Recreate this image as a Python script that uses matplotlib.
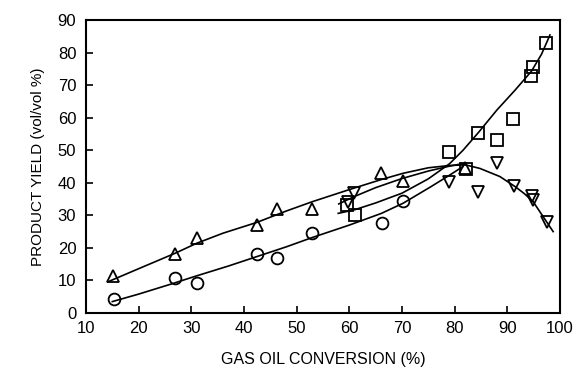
import numpy as np
import matplotlib
matplotlib.use("Agg")
import matplotlib.pyplot as plt

plt.rcParams['font.family'] = ['Liberation Sans', 'DejaVu Sans']

# measured points
tri_x = [15.2, 26.9, 31.0, 42.4, 46.2, 53.0, 66.1, 70.2, 81.9]
tri_y = [11.4, 18.0, 22.9, 26.9, 31.8, 31.9, 42.9, 40.5, 44.6]

circ_x = [15.4, 26.9, 31.0, 42.4, 46.2, 53.0, 66.3, 70.2]
circ_y = [4.3, 10.6, 9.3, 18.0, 17.0, 24.5, 27.5, 34.5]

sq_x = [59.6, 61.0, 78.9, 82.1, 84.5, 88.1, 91.1, 94.5, 94.8, 97.3]
sq_y = [33.2, 30.1, 49.3, 44.2, 55.2, 53.1, 59.6, 72.8, 75.5, 82.8]

inv_x = [59.8, 60.8, 79.0, 84.5, 88.1, 91.3, 94.6, 94.9, 97.6]
inv_y = [34.0, 36.9, 40.3, 37.3, 46.2, 39.0, 36.0, 34.7, 28.0]

# fitted curves
tri_cx = [14.2, 20, 27, 31, 36, 42.4, 48, 53, 60, 66.1, 70.2, 75, 79, 82]
tri_cy = [9.6, 13.6, 18.4, 21.4, 24.5, 27.8, 31.3, 34.2, 37.9, 41.0, 42.9, 44.6, 45.3, 45.5]

circ_cx = [15, 20, 26, 31, 37, 42.4, 48, 53, 60, 66.1, 70.2, 75.3, 79, 81.6]
circ_cy = [3.5, 5.8, 8.8, 11.4, 14.4, 17.3, 20.3, 23.2, 27.0, 30.6, 33.7, 38.6, 42.3, 45.0]

sq_cx = [57.9, 61, 65, 70, 75, 79, 81.6, 84.5, 88, 91.5, 94.6, 96.5, 98.1]
sq_cy = [30.6, 31.7, 33.8, 36.8, 41.2, 45.8, 50.0, 55.4, 62.3, 68.5, 74.3, 79.5, 85.4]

inv_cx = [58, 61, 65, 70, 75, 79, 81.3, 84.8, 88.6, 91.5, 93.2, 94.9, 96.8, 98.7]
inv_cy = [33.5, 35.8, 38.5, 41.3, 43.6, 45.1, 45.8, 44.4, 41.9, 38.8, 36.7, 34.2, 29.6, 25.0]

xticks = [10, 20, 30, 40, 50, 60, 70, 80, 90, 100]
yticks = [0, 10, 20, 30, 40, 50, 60, 70, 80, 90]

fig = plt.figure(figsize=(5.77, 3.68), dpi=100)
ax = fig.add_axes([0.149, 0.1495, 0.8215, 0.7962])

for cx, cy in [(tri_cx, tri_cy), (circ_cx, circ_cy), (sq_cx, sq_cy), (inv_cx, inv_cy)]:
    ax.plot(cx, cy, color='black', lw=1.2)

mk = dict(linestyle='none', markerfacecolor='none', markeredgecolor='black', markeredgewidth=1.3)
ax.plot(tri_x, tri_y, marker='^', markersize=8.5, **mk)
ax.plot(circ_x, circ_y, marker='o', markersize=8.5, **mk)
ax.plot(sq_x, sq_y, marker='s', markersize=8, **mk)
ax.plot(inv_x, inv_y, marker='v', markersize=8.5, **mk)

ax.set_xlim(10, 100)
ax.set_ylim(0, 90)
ax.set_xticks(xticks)
ax.set_yticks(yticks)
ax.tick_params(direction='in', length=5, width=1.2, labelsize=12)
ax.tick_params(axis='y', pad=7)
ax.tick_params(axis='x', pad=6)
for s in ax.spines.values():
    s.set_linewidth(1.5)

ax.set_xlabel('GAS OIL CONVERSION (%)', fontsize=11.5, labelpad=11)
ax.set_ylabel('PRODUCT YIELD (vol/vol %)', fontsize=11, labelpad=9)

fig.savefig('out.png', dpi=100)
